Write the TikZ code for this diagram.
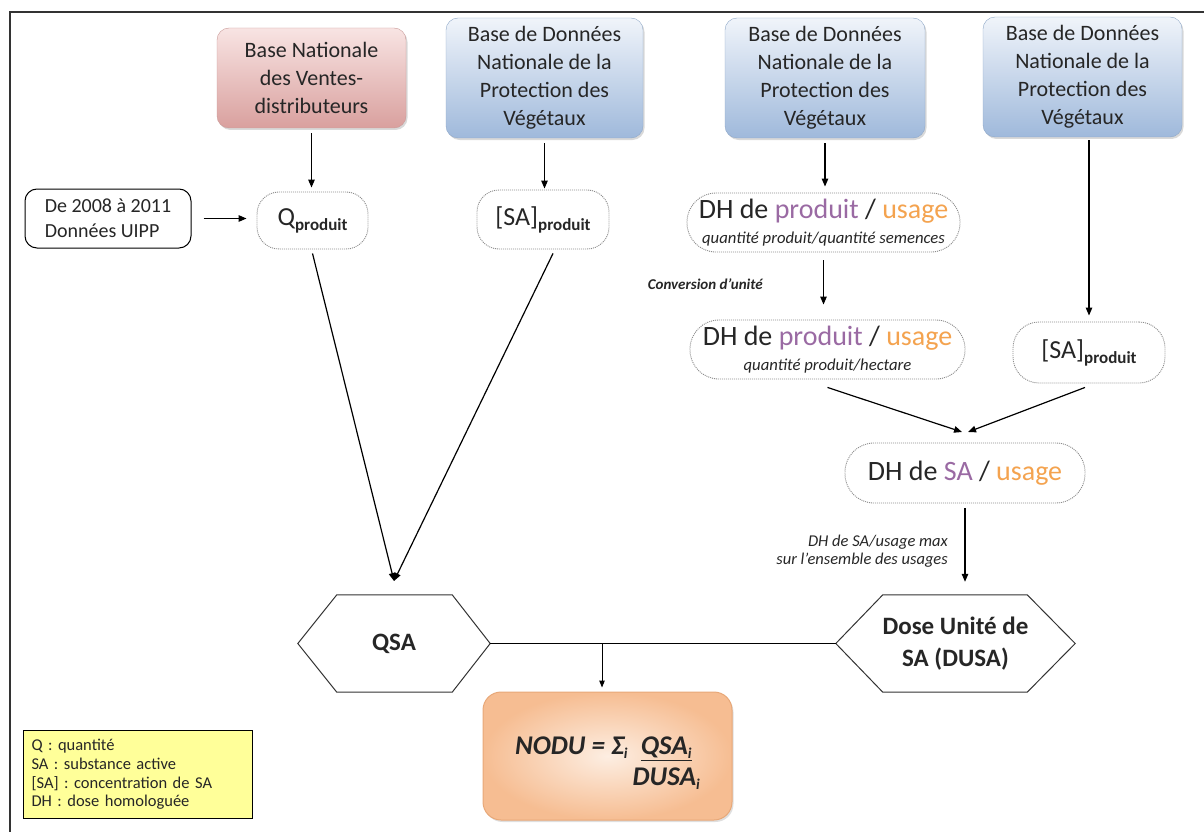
\documentclass[tikz,border=0pt]{standalone}
\usepackage{fontspec}
\setmainfont{Carlito}
\usetikzlibrary{arrows.meta,shadows}
\definecolor{txt}{HTML}{262626}
\definecolor{pinktop}{HTML}{F8E4E3}
\definecolor{pinkbot}{HTML}{D9A09E}
\definecolor{pinkline}{HTML}{C99A98}
\definecolor{bluetop}{HTML}{F0F4FA}
\definecolor{bluebot}{HTML}{9FB9DB}
\definecolor{blueline}{HTML}{8FA8C8}
\definecolor{purp}{HTML}{9A6AA3}
\definecolor{orng}{HTML}{F4A34F}
\definecolor{noduin}{HTML}{FDEEE2}
\definecolor{noduout}{HTML}{F6BD92}
\definecolor{noduline}{HTML}{E8A878}
\definecolor{legfill}{HTML}{FFFF99}
\definecolor{dotline}{HTML}{8C8C8C}
\newcommand{\mysub}[1]{\raisebox{-5pt}{\fontsize{17}{17}\selectfont\bfseries #1}}
\newcommand{\myidx}{\raisebox{-4pt}{\fontsize{15}{15}\selectfont i}}
\begin{document}
\begin{tikzpicture}[x=1pt,y=-1pt,
  every node/.style={text=txt},
  srcbox/.style={rounded corners=12pt, align=center, inner sep=0pt,
    font=\fontsize{22}{28}\selectfont,
    drop shadow={opacity=0.3,shadow xshift=1.5pt,shadow yshift=-2pt}},
  pinkbox/.style={srcbox, top color=pinktop, bottom color=pinkbot, draw=pinkline},
  bluebox/.style={srcbox, top color=bluetop, bottom color=bluebot, draw=blueline},
  dotbox/.style={draw=dotline, dash pattern=on 1pt off 1pt, line width=0.9pt,
    fill=white, align=center, inner sep=0pt},
  arr/.style={line width=1.2pt, -{Triangle[length=8pt,width=6.5pt]}},
  hexlbl/.style={font=\fontsize{25}{32}\selectfont\bfseries, align=center, inner sep=0pt},
  hexline/.style={line width=1pt, draw=black!80},
  note/.style={font=\fontsize{16.5}{18}\selectfont\itshape, align=right, inner sep=0pt},
]
\useasboundingbox (0,0) rectangle (1204,832);
\draw[line width=1.5pt, draw=black!80] (10,832) -- (10,12) -- (1204,12);

% source boxes
\node[pinkbox, minimum width=189pt, minimum height=100pt] (bnv) at (311.5,78)
  {Base Nationale\\des Ventes-\\distributeurs};
\node[bluebox, minimum width=197pt, minimum height=120pt] (bd1) at (544.5,78)
  {Base de Données\\Nationale de la\\Protection des\\Végétaux};
\node[bluebox, minimum width=200pt, minimum height=120pt] (bd2) at (825,78)
  {Base de Données\\Nationale de la\\Protection des\\Végétaux};
\node[bluebox, minimum width=199pt, minimum height=120pt] (bd3) at (1082.5,77)
  {Base de Données\\Nationale de la\\Protection des\\Végétaux};

\node[draw=black, line width=1pt, rounded corners=12pt, minimum width=166pt,
  minimum height=59pt, align=left, inner sep=0pt,
  font=\fontsize{20}{25}\selectfont] (uipp) at (108,218.5)
  {De 2008 à 2011\\Données UIPP};

\node[dotbox, rounded corners=22pt, minimum width=111pt, minimum height=57pt,
  font=\fontsize{26}{30}\selectfont] (q) at (312.5,220.5) {Q\mysub{produit}};
\node[dotbox, rounded corners=22pt, minimum width=132pt, minimum height=59pt,
  font=\fontsize{26}{30}\selectfont] (sa1) at (543,219.5) {[SA]\mysub{produit}};

\node[dotbox, rounded corners=29pt, minimum width=273pt, minimum height=59pt,
  font=\fontsize{28}{25}\selectfont] (dh1) at (823.5,222.5)
  {DH de \textcolor{purp}{produit} / \textcolor{orng}{usage}\\
   {\fontsize{16.7}{18}\selectfont\itshape quantité produit/quantité semences}};
\node[dotbox, rounded corners=29pt, minimum width=275pt, minimum height=59pt,
  font=\fontsize{28}{25}\selectfont] (dh2) at (827.5,349.5)
  {DH de \textcolor{purp}{produit} / \textcolor{orng}{usage}\\
   {\fontsize{16.7}{18}\selectfont\itshape quantité produit/hectare}};
\node[dotbox, rounded corners=26pt, minimum width=152pt, minimum height=61pt,
  font=\fontsize{26}{30}\selectfont] (sa2) at (1089,352.5) {[SA]\mysub{produit}};
\node[dotbox, rounded corners=29pt, minimum width=240pt, minimum height=60pt,
  font=\fontsize{28}{30}\selectfont] (dhsa) at (965,473)
  {DH de \textcolor{purp}{SA} / \textcolor{orng}{usage}};

% hexagons
\node[hexlbl, minimum width=192pt, minimum height=97pt] (qsa) at (394,643.5) {QSA};
\draw[hexline] (qsa.west) -- ([xshift=39pt]qsa.north west) -- ([xshift=-38pt]qsa.north east)
  -- (qsa.east) -- ([xshift=-38pt]qsa.south east) -- ([xshift=39pt]qsa.south west) -- cycle;
\node[hexlbl, minimum width=239pt, minimum height=97pt] (dusa) at (955.5,643.5)
  {Dose Unité de\\SA (DUSA)};
\draw[hexline] (dusa.west) -- ([xshift=47pt]dusa.north west) -- ([xshift=-48pt]dusa.north east)
  -- (dusa.east) -- ([xshift=-48pt]dusa.south east) -- ([xshift=47pt]dusa.south west) -- cycle;

% NODU
\node[rounded corners=18pt, draw=noduline, line width=1pt, inner color=noduin,
  outer color=noduout, minimum width=249pt, minimum height=128pt, inner sep=0pt,
  font=\fontsize{27}{31}\selectfont\bfseries\itshape,
  drop shadow={opacity=0.25,shadow xshift=1.5pt,shadow yshift=-2pt}] (nodu) at (607.5,756)
  {\begin{tabular}{@{}r@{\hspace{5pt}}c@{}}
   \rule{0pt}{38pt}NODU = Σ\myidx & \underline{QSA\myidx}\\
   & DUSA\myidx
   \end{tabular}};

% legend
\node[draw=black, line width=1pt, fill=legfill, anchor=north west, minimum width=229pt,
  minimum height=88pt, align=left, inner sep=0pt, text width=213pt,
  font=\fontsize{16.5}{18.8}\selectfont] (leg) at (23,730)
  {Q : quantité\\SA : substance active\\{[SA]} : concentration de SA\\DH : dose homologuée};

% notes
\node[note, font=\fontsize{15}{17}\selectfont\bfseries\itshape, anchor=east] (conv) at (763,284)
  {Conversion d'unité};
\node[note, anchor=east] (maxnote) at (948,551)
  {DH de SA/usage max\\sur l’ensemble des usages};

% connectors
\draw[arr, shorten <=5pt, shorten >=4pt] (bnv.south) -- (bnv.south |- q.north);
\draw[arr, shorten <=5pt, shorten >=1pt] (bd1.south) -- (bd1.south |- sa1.north);
\draw[arr, shorten <=5pt, shorten >=6pt] (bd2.south) -- (bd2.south |- dh1.north);
\draw[arr, shorten <=8pt, shorten >=15pt] (dh1.south) -- (dh1.south |- dh2.north);
\draw[arr, shorten <=3pt, shorten >=6pt] (sa2.north |- bd3.south) -- (sa2.north);
\draw[arr, shorten <=12pt, shorten >=10pt] (uipp.east) -- (uipp.east -| q.west);

\coordinate (qin) at (394,581);
\draw[arr] ([yshift=-4pt]q.south) -- (qin);
\draw[arr] ([xshift=10pt,yshift=-4pt]sa1.south) -- (qin);

\coordinate (dhsain) at (965,432);
\draw[arr] ([yshift=-8pt]dh2.south) -- ([xshift=-3pt]dhsain);
\draw[arr] ([xshift=-4pt,yshift=-4pt]sa2.south) -- ([xshift=3pt]dhsain);
\draw[arr, shorten <=5pt, shorten >=13pt] (dhsa.south) -- (dhsa.south |- dusa.north);

\draw[line width=1pt] (qsa.east) -- (dusa.west);
\coordinate (jn) at (602,643.5);
\draw[line width=1pt, -{Triangle[length=7pt,width=5.5pt]}, shorten >=4pt] (jn) -- (jn |- nodu.north);
\end{tikzpicture}
\end{document}
